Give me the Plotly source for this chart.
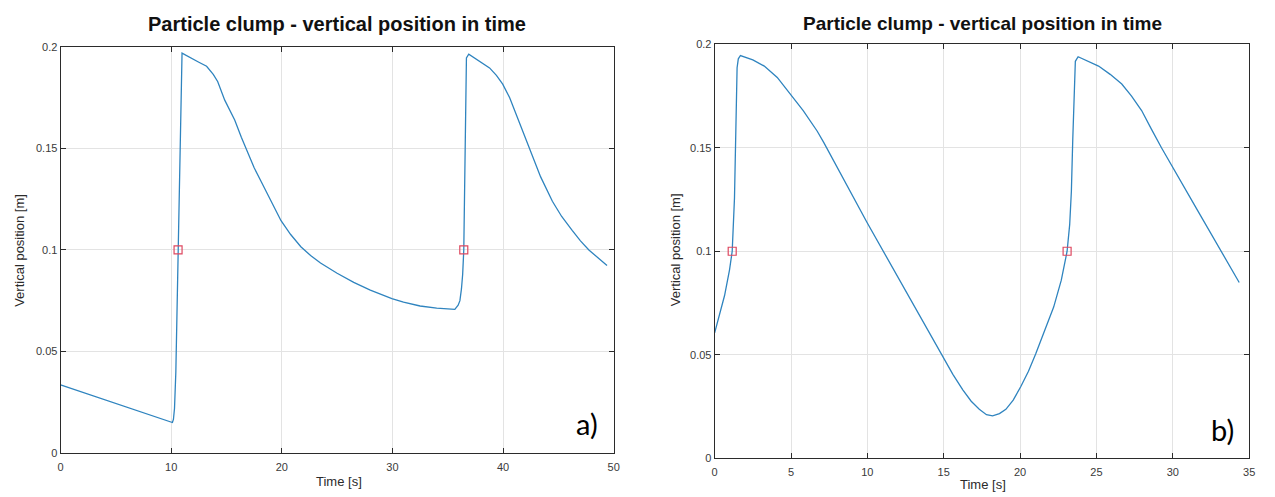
import plotly.graph_objects as go

# Case a) - vertical position of the particle clump over time
a_time = [0, 10.11, 10.2, 10.3, 10.42, 10.62, 10.8, 10.9, 10.98, 12.5, 13.2,
          13.8, 14.2, 14.84, 15.74, 16.34, 16.93, 17.5, 18.13, 18.88, 19.93,
          20.8, 21.72, 22.6, 23.5, 25.0, 26.5, 28.0, 29.95, 31.0, 32.5, 34.0,
          35.64, 35.94, 36.1, 36.24, 36.35, 36.45, 36.56, 36.69, 36.9, 38.78,
          39.4, 39.97, 40.6, 41.17, 41.8, 42.37, 43.4, 44.46, 45.3, 46.25, 47.0,
          47.76, 48.6, 49.4]
a_pos = [0.0335, 0.015, 0.0165, 0.022, 0.04, 0.1, 0.16, 0.193, 0.197, 0.1925,
         0.1905, 0.1865, 0.183, 0.1738, 0.164, 0.1555, 0.148, 0.1405, 0.1337,
         0.1255, 0.1144, 0.1076, 0.1016, 0.0973, 0.0936, 0.0885, 0.084, 0.0802,
         0.076, 0.0743, 0.0724, 0.0713, 0.0707, 0.0728, 0.075, 0.0808, 0.088,
         0.1, 0.158, 0.1946, 0.1965, 0.1897, 0.186, 0.1817, 0.175, 0.167, 0.158,
         0.1497, 0.136, 0.124, 0.1165, 0.1096, 0.1045, 0.1, 0.096, 0.0923]
a_mark_time = [10.62, 36.45]
a_mark_pos = [0.1, 0.1]

# Case b)
b_time = [0, 0.35, 0.65, 0.975, 1.15, 1.3, 1.37, 1.47, 1.55, 1.69, 2.5, 3.25,
          4.1, 4.98, 5.8, 6.72, 7.15, 9.97, 12.78, 14.95, 15.6, 16.25, 16.8,
          17.33, 17.8, 18.2, 18.65, 19.07, 19.55, 20.05, 20.55, 21.02, 21.6,
          22.2, 22.7, 23.08, 23.25, 23.36, 23.45, 23.62, 23.8, 25.14, 25.9,
          26.66, 27.3, 27.96, 28.6, 29.26, 31.64, 34.35]
b_pos = [0.0605, 0.07, 0.0786, 0.091, 0.1, 0.1258, 0.157, 0.1887, 0.193,
         0.1946, 0.1925, 0.1895, 0.184, 0.176, 0.168, 0.158, 0.1525, 0.114,
         0.0775, 0.0487, 0.0405, 0.033, 0.0275, 0.0236, 0.021, 0.0204, 0.0215,
         0.0236, 0.028, 0.0346, 0.042, 0.0503, 0.061, 0.073, 0.086, 0.1, 0.113,
         0.129, 0.154, 0.1918, 0.194, 0.1895, 0.1855, 0.1808, 0.175, 0.168,
         0.159, 0.150, 0.1195, 0.0849]
b_mark_time = [1.15, 23.08]
b_mark_pos = [0.1, 0.1]

y_ticks = [0, 0.05, 0.1, 0.15, 0.2]
y_tick_text = ["0", "0.05", "0.1", "0.15", "0.2"]
a_x_ticks = [0, 10, 20, 30, 40, 50]
b_x_ticks = [0, 5, 10, 15, 20, 25, 30, 35]

W, H = 1275, 497
LINE = "#2f84bf"
MARK = "rgb(222,72,96)"
AXC = "#2b2b2b"
GRID = "#e3e3e3"
FONT = "Liberation Sans, Arial, sans-serif"

fig = go.Figure()
fig.add_trace(go.Scatter(x=a_time, y=a_pos, mode="lines",
                         line=dict(color=LINE, width=1.3), xaxis="x", yaxis="y"))
fig.add_trace(go.Scatter(x=a_mark_time, y=a_mark_pos, mode="markers",
                         marker=dict(symbol="square-open", size=8,
                                     color=MARK, line=dict(width=1.2)),
                         xaxis="x", yaxis="y"))
fig.add_trace(go.Scatter(x=b_time, y=b_pos, mode="lines",
                         line=dict(color=LINE, width=1.3), xaxis="x2", yaxis="y2"))
fig.add_trace(go.Scatter(x=b_mark_time, y=b_mark_pos, mode="markers",
                         marker=dict(symbol="square-open", size=8,
                                     color=MARK, line=dict(width=1.2)),
                         xaxis="x2", yaxis="y2"))


def px(x):
    return x / W


def py(y):
    return 1 - y / H


common = dict(showline=True, linecolor=AXC, linewidth=1, mirror="ticks",
              ticks="inside", ticklen=5, tickcolor=AXC, showgrid=True,
              gridcolor=GRID, gridwidth=1, zeroline=False,
              tickfont=dict(family=FONT, size=11, color="#3a3a3a"))

fig.update_layout(
    width=W, height=H, autosize=False,
    margin=dict(l=0, r=0, t=0, b=0),
    paper_bgcolor="white", plot_bgcolor="white",
    showlegend=False,
    xaxis=dict(domain=[px(58), px(615)], range=[0, 50], tickvals=a_x_ticks,
               anchor="y", ticklabelstandoff=4, **common),
    yaxis=dict(domain=[py(458), py(42)], range=[0, 0.2], tickvals=y_ticks,
               ticktext=y_tick_text, anchor="x", **common),
    xaxis2=dict(domain=[px(716.7), px(1255)], range=[0, 35], tickvals=b_x_ticks,
                anchor="y2", ticklabelstandoff=4, **common),
    yaxis2=dict(domain=[py(463.3), py(39.3)], range=[0, 0.2], tickvals=y_ticks,
                ticktext=y_tick_text, anchor="x2", **common),
)

title = "Particle clump - vertical position in time"
notes = [
    dict(x=px(336), y=py(18), text=f"<b>{title}</b>", size=20, color="#111"),
    dict(x=px(986), y=py(18), text=f"<b>{title}</b>", size=19, color="#111"),
    dict(x=px(338), y=py(487), text="Time [s]", size=13, color="#2b2b2b"),
    dict(x=px(987), y=py(490), text="Time [s]", size=13, color="#2b2b2b"),
]
for n in notes:
    fig.add_annotation(x=n["x"], y=n["y"], xref="paper", yref="paper",
                       text=n["text"], showarrow=False, xanchor="center",
                       yanchor="middle",
                       font=dict(family=FONT, size=n["size"], color=n["color"]))

for xx in (17, 678):
    fig.add_annotation(x=px(xx), y=py(250), xref="paper", yref="paper",
                       text="Vertical position [m]", textangle=-90,
                       showarrow=False, xanchor="center", yanchor="middle",
                       font=dict(family=FONT, size=13, color="#2b2b2b"))

for label, xx, yy in (("a)", 588, 428), ("b)", 1228, 434)):
    fig.add_annotation(x=px(xx), y=py(yy), xref="paper", yref="paper",
                       text=label, showarrow=False, xanchor="center",
                       yanchor="middle",
                       font=dict(family="Lato, Carlito, sans-serif", size=29,
                                 color="#000"))

fig.write_html("out.html")
